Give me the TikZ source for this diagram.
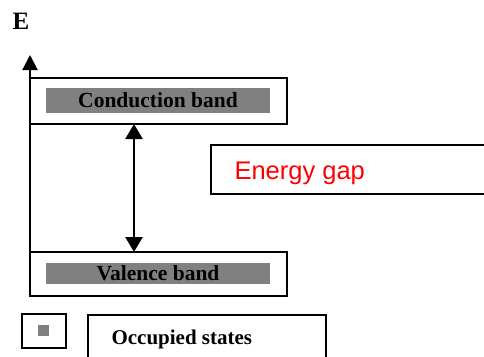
\documentclass[tikz,border=0pt]{standalone}
\usepackage{fontspec}
\setmainfont{Liberation Serif}
\newfontfamily\gapfont{Liberation Sans}
\usetikzlibrary{arrows.meta}

\tikzset{
  bandbox/.style={draw=black, line width=2pt, inner sep=0pt, outer sep=0pt, fill=white},
  bandfill/.style={fill=black!50, inner sep=0pt, font=\fontsize{21.5}{24}\selectfont\bfseries},
  gaparrow/.style={line width=2.5pt, {Triangle[length=15pt,width=17pt]}-{Triangle[length=15pt,width=17pt]}},
}

\begin{document}
\begin{tikzpicture}[line cap=butt,line join=miter,x=1pt,y=-1pt]
  \useasboundingbox (0,0) rectangle (484,356);
  \clip (0,0) rectangle (484,356);
  % axis
  \coordinate (axistop) at (30,55);
  \node[font=\fontsize{25}{28}\selectfont\bfseries] (elabel) at (21,21) {E};
  % bands
  \node[bandbox, minimum width=257, minimum height=46] (cb) at (158.5,101) {};
  \node[bandfill, minimum width=224, minimum height=25] (cbfill) at (158,100.5) {Conduction band};
  \node[bandbox, minimum width=257, minimum height=44] (vb) at (158.5,274) {};
  \node[bandfill, minimum width=224, minimum height=21] (vbfill) at (158,273.5) {Valence band};
  \draw[line width=2pt, -{Triangle[length=15pt,width=15pt]}] (vb.south west) -- (axistop);
  % gap
  \coordinate (gaptop) at (134,124);
  \coordinate (gapbot) at (134,252);
  \draw[gaparrow] (gaptop) -- (gapbot);
  \draw[line width=2pt] (500,145) -- (211,145) -- (211,194) -- (500,194);
  \node[anchor=base west, text=red, font=\gapfont\fontsize{25.5}{28}\selectfont] (gaptext) at (231,179) {Energy gap};
  % legend
  \node[bandbox, minimum width=44, minimum height=34] (legbox) at (44,331) {};
  \node[fill=black!50, minimum size=11, inner sep=0pt] (legsq) at (43.5,330.5) {};
  \draw[line width=2pt] (88,370) -- (88,315) -- (326,315) -- (326,370);
  \node[anchor=base west, font=\fontsize{21}{24}\selectfont\bfseries] (legtext) at (108,344) {Occupied states};
\end{tikzpicture}
\end{document}
